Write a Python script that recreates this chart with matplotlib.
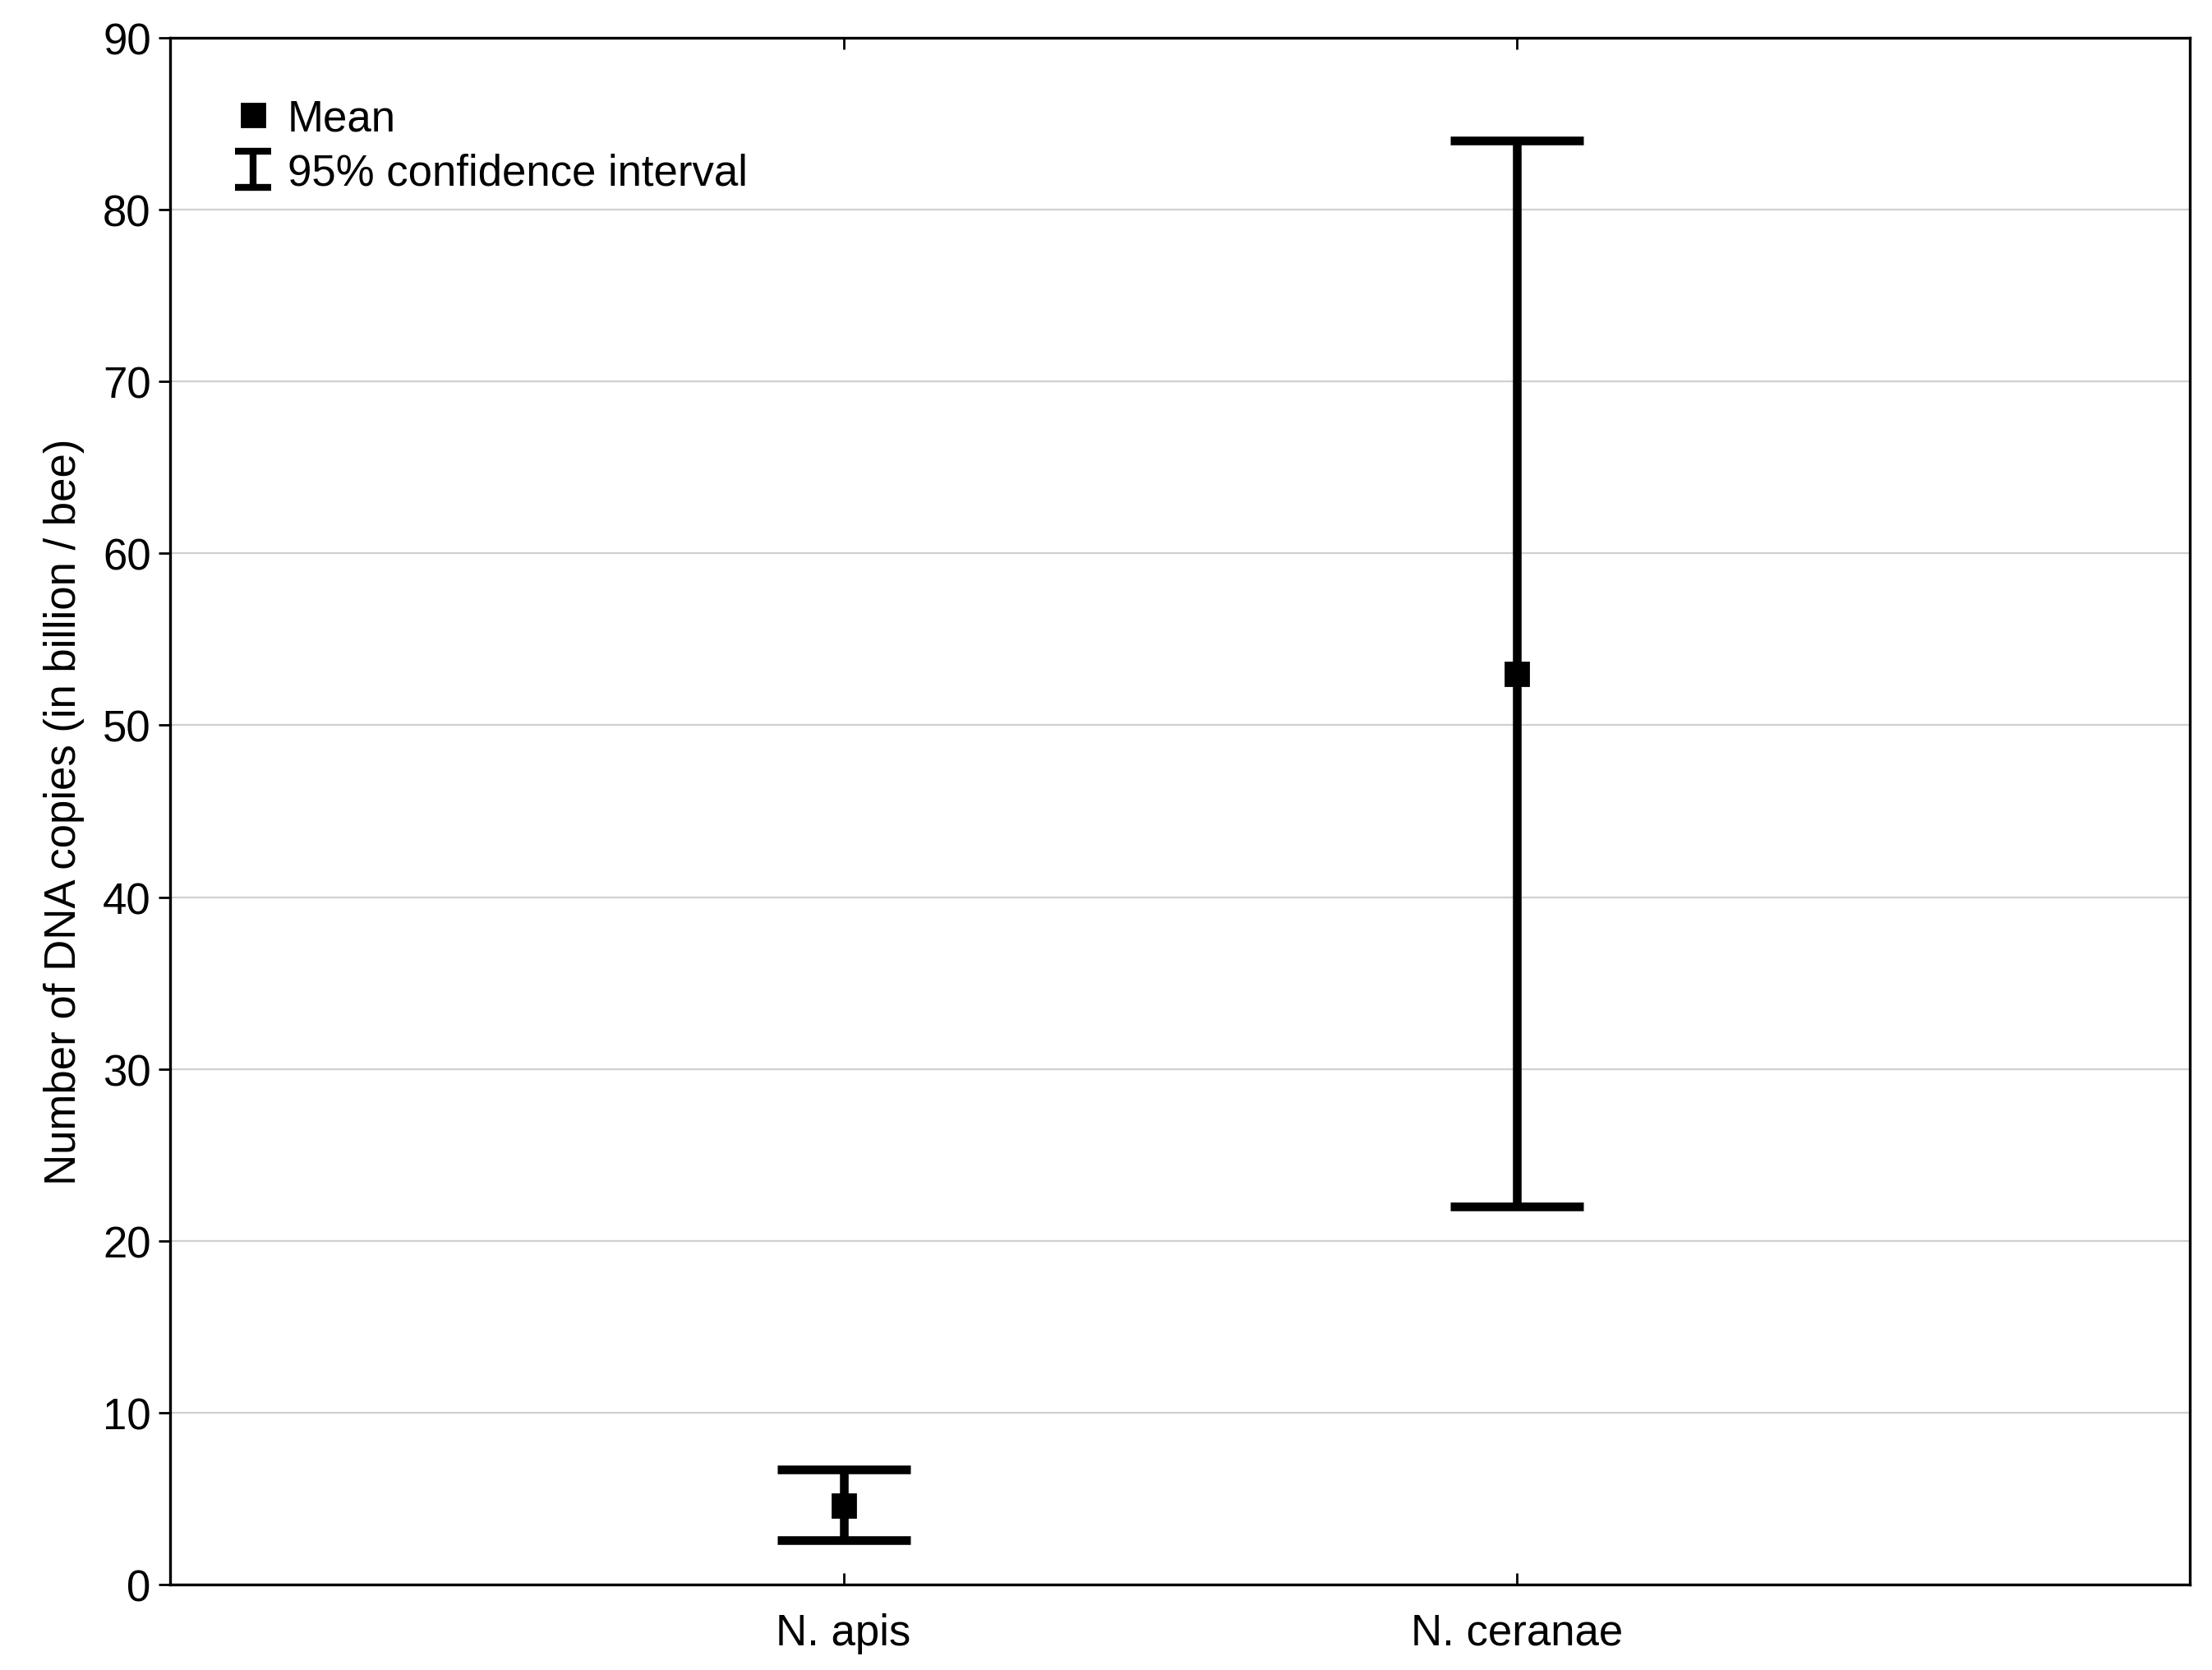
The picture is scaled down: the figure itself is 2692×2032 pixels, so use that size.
import matplotlib
matplotlib.use("Agg")
import matplotlib.pyplot as plt
from matplotlib.lines import Line2D
from matplotlib.path import Path

categories = ["N. apis", "N. ceranae"]
means = [4.6, 53.0]
ci_low = [2.6, 22.0]
ci_high = [6.7, 84.0]
yticks = [0, 10, 20, 30, 40, 50, 60, 70, 80, 90]

plt.rcParams['font.family'] = ['Liberation Sans', 'DejaVu Sans']
fig = plt.figure(figsize=(13.46, 10.165), dpi=200)
ax = fig.add_axes([0.077, 0.051, 0.913, 0.926])
x = [1, 2]
yerr = [[m - l for m, l in zip(means, ci_low)], [h - m for m, h in zip(means, ci_high)]]
ax.errorbar(x, means, yerr=yerr, fmt='s', color='black', ms=10, elinewidth=3.8,
            capsize=29, capthick=3.8, zorder=3)
ax.set_xlim(0, 3)
ax.set_ylim(0, 90)
ax.set_yticks(yticks)
ax.set_xticks(x)
ax.set_xticklabels(categories)
ax.yaxis.grid(True, color='#d0d0d0', lw=0.8)
ax.set_axisbelow(True)
ax.tick_params(labelsize=19, length=5, width=1, top=True, right=False)
ax.tick_params(axis='x', direction='in', pad=12)
for s in ax.spines.values():
    s.set_linewidth(1.2)
ax.set_ylabel("Number of DNA copies (in billion / bee)", fontsize=19, labelpad=8)

ipath = Path([(-1, 1), (1, 1), (0, 1), (0, -1), (-1, -1), (1, -1)],
             [Path.MOVETO, Path.LINETO, Path.MOVETO, Path.LINETO, Path.MOVETO, Path.LINETO])
handles = [Line2D([], [], marker='s', color='black', ls='none', ms=10),
           Line2D([], [], marker=ipath, color='black', ls='none', ms=16, mew=3)]
ax.legend(handles, ["Mean", "95% confidence interval"], loc='upper left', frameon=False,
          fontsize=19, handlelength=1.0, handletextpad=0.3, labelspacing=0.3,
          borderaxespad=1.0)
fig.savefig("out.png", dpi=200)
